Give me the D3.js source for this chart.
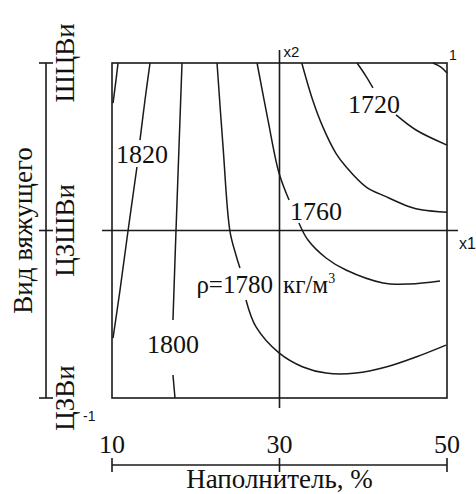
<!DOCTYPE html>
<html>
<head>
<meta charset="utf-8">
<script src="https://cdn.jsdelivr.net/npm/d3@7"></script>
<style>
  body { margin: 0; background: #fff; }
  text { fill: #111; }
</style>
</head>
<body>
<script>
// binder types, coded x2 = -1, 0, 1
const binders = ["ЦЗВи", "ЦЗШВи", "ШЦВи"];
// filler content, %
const fillerTicks = [10, 30, 50];

// density isolines, points in coded factors [x1, x2]; null = gap under a label
const iso1840 = [[-0.964, 1], [-0.976, 0.899], [-0.994, 0.761]];
const iso1820 = [[-0.773, 1], [-0.803, 0.779], [-0.833, 0.54], null,
  [-0.851, 0.379], [-0.904, 0], [-0.952, -0.355], [-0.994, -0.642]];
const iso1800 = [[-0.582, 1], [-0.6, 0.499], [-0.618, -0.003], [-0.636, -0.534], null,
  [-0.636, -0.863], [-0.624, -1]];
const iso1780 = [[-0.373, 1], [-0.337, 0.499], [-0.296, -0.003], [-0.26, -0.146], [-0.236, -0.224], null,
  [-0.2, -0.415], [-0.14, -0.576], [-0.003, -0.731], [0.14, -0.815], [0.278, -0.851],
  [0.457, -0.851], [0.636, -0.815], [0.815, -0.755], [0.994, -0.684]];
const iso1760 = [[-0.134, 1], [-0.069, 0.66], [-0.003, 0.343], [0.057, 0.182], null,
  [0.116, 0.045], [0.17, -0.057], [0.278, -0.164], [0.397, -0.236], [0.618, -0.313],
  [0.779, -0.319], [0.958, -0.301]];
const iso1740 = [[0.133, 1], [0.198, 0.779], [0.258, 0.62], [0.337, 0.461], [0.397, 0.381],
  [0.516, 0.261], [0.636, 0.202], [0.775, 0.142], [0.855, 0.122], [1, 0.109]];
const iso1720 = [[0.463, 1], [0.516, 0.922], [0.558, 0.851], null,
  [0.696, 0.69], [0.815, 0.6], [1, 0.51]];
const iso1700 = [[0.916, 1], [0.964, 0.976], [1, 0.94]];

const isolines = [iso1840, iso1820, iso1800, iso1780, iso1760, iso1740, iso1720, iso1700];

// level labels: value and its anchor [x1, x2]
const levelLabels = [
  { text: "1820", at: [-0.821, 0.403] },
  { text: "1800", at: [-0.636, -0.731] },
  { text: "1760", at: [0.218, 0.063] },
  { text: "1720", at: [0.564, 0.701] }
];

const width = 476, height = 494;
const pLeft = 112, pRight = 447, pTop = 63, pBottom = 398;

const svg = d3.select("body").append("svg")
  .attr("width", width)
  .attr("height", height);

// coded factor scales
const x = d3.scaleLinear().domain([-1, 1]).range([pLeft, pRight]);
const y = d3.scaleLinear().domain([-1, 1]).range([pBottom, pTop]);
// real units
const xPct = d3.scaleLinear().domain([10, 50]).range([pLeft, pRight]);
const yCat = d3.scalePoint().domain(binders).range([pBottom, pTop]);

const serif = "'Liberation Serif', 'Times New Roman', serif";
const sans = "'Liberation Sans', Arial, sans-serif";

// isolines
const line = d3.line()
  .defined(d => d)
  .x(d => x(d[0]))
  .y(d => y(d[1]))
  .curve(d3.curveCatmullRom.alpha(0.5));

svg.append("g")
  .selectAll("path")
  .data(isolines)
  .enter()
  .append("path")
  .attr("d", line)
  .attr("fill", "none")
  .attr("stroke", "#1a1a1a")
  .attr("stroke-width", 1.5);

// level labels
svg.append("g")
  .selectAll("text")
  .data(levelLabels)
  .enter()
  .append("text")
  .attr("x", d => x(d.at[0]))
  .attr("y", d => y(d.at[1]))
  .attr("text-anchor", "middle")
  .style("font-family", serif)
  .style("font-size", "26px")
  .text(d => d.text);

// rho label, split by the x2 line
svg.append("text")
  .attr("x", x(-0.039))
  .attr("y", y(-0.373))
  .attr("text-anchor", "end")
  .style("font-family", serif)
  .style("font-size", "25px")
  .text("ρ=1780");

const units = svg.append("text")
  .attr("x", x(0.021))
  .attr("y", y(-0.373))
  .style("font-family", serif)
  .style("font-size", "25px")
  .text("кг/м");
units.append("tspan")
  .attr("dy", -10)
  .style("font-size", "14px")
  .text("3");

// frame
svg.append("rect")
  .attr("x", pLeft)
  .attr("y", pTop)
  .attr("width", pRight - pLeft)
  .attr("height", pBottom - pTop)
  .attr("fill", "none")
  .attr("stroke", "#1a1a1a")
  .attr("stroke-width", 1.6);

// x1 / x2 centre lines
svg.append("line")
  .attr("x1", x(0)).attr("x2", x(0))
  .attr("y1", 50).attr("y2", 408)
  .attr("stroke", "#1a1a1a").attr("stroke-width", 1.6);
svg.append("line")
  .attr("x1", 102).attr("x2", 458)
  .attr("y1", y(0)).attr("y2", y(0))
  .attr("stroke", "#1a1a1a").attr("stroke-width", 1.6);

svg.append("text")
  .attr("x", x(0) + 4).attr("y", 57)
  .style("font-family", sans).style("font-size", "15px")
  .text("x2");
svg.append("text")
  .attr("x", pRight + 2).attr("y", 60)
  .style("font-family", sans).style("font-size", "14px")
  .text("1");
svg.append("text")
  .attr("x", 459).attr("y", 249)
  .style("font-family", sans).style("font-size", "16px")
  .text("x1");
svg.append("text")
  .attr("x", 83).attr("y", 421)
  .style("font-family", sans).style("font-size", "14px")
  .text("-1");

// left axis: binder type
const axisX = 46;
svg.append("line")
  .attr("x1", axisX).attr("x2", axisX)
  .attr("y1", pTop).attr("y2", pBottom)
  .attr("stroke", "#1a1a1a").attr("stroke-width", 1.6);

svg.append("g")
  .selectAll("line")
  .data(binders)
  .enter()
  .append("line")
  .attr("x1", axisX - 7).attr("x2", axisX + 7)
  .attr("y1", d => yCat(d)).attr("y2", d => yCat(d))
  .attr("stroke", "#1a1a1a").attr("stroke-width", 1.6);

svg.append("g")
  .selectAll("text")
  .data(binders)
  .enter()
  .append("text")
  .attr("transform", d => `translate(74,${yCat(d)}) rotate(-90)`)
  .attr("text-anchor", "middle")
  .style("font-family", serif)
  .style("font-size", "27px")
  .text(d => d);

svg.append("text")
  .attr("transform", `translate(32,${y(0)}) rotate(-90)`)
  .attr("text-anchor", "middle")
  .style("font-family", serif)
  .style("font-size", "27px")
  .text("Вид вяжущего");

// bottom axis: filler
const axisY = 465;
svg.append("line")
  .attr("x1", pLeft).attr("x2", pRight)
  .attr("y1", axisY).attr("y2", axisY)
  .attr("stroke", "#1a1a1a").attr("stroke-width", 1.6);

svg.append("g")
  .selectAll("line")
  .data(fillerTicks)
  .enter()
  .append("line")
  .attr("x1", d => xPct(d)).attr("x2", d => xPct(d))
  .attr("y1", axisY - 7).attr("y2", axisY + 7)
  .attr("stroke", "#1a1a1a").attr("stroke-width", 1.6);

svg.append("g")
  .selectAll("text")
  .data(fillerTicks)
  .enter()
  .append("text")
  .attr("x", d => xPct(d))
  .attr("y", 453)
  .attr("text-anchor", "middle")
  .style("font-family", serif)
  .style("font-size", "26px")
  .text(d => d);

svg.append("text")
  .attr("x", x(0))
  .attr("y", 488)
  .attr("text-anchor", "middle")
  .style("font-family", serif)
  .style("font-size", "27px")
  .text("Наполнитель, %");
</script>
</body>
</html>
